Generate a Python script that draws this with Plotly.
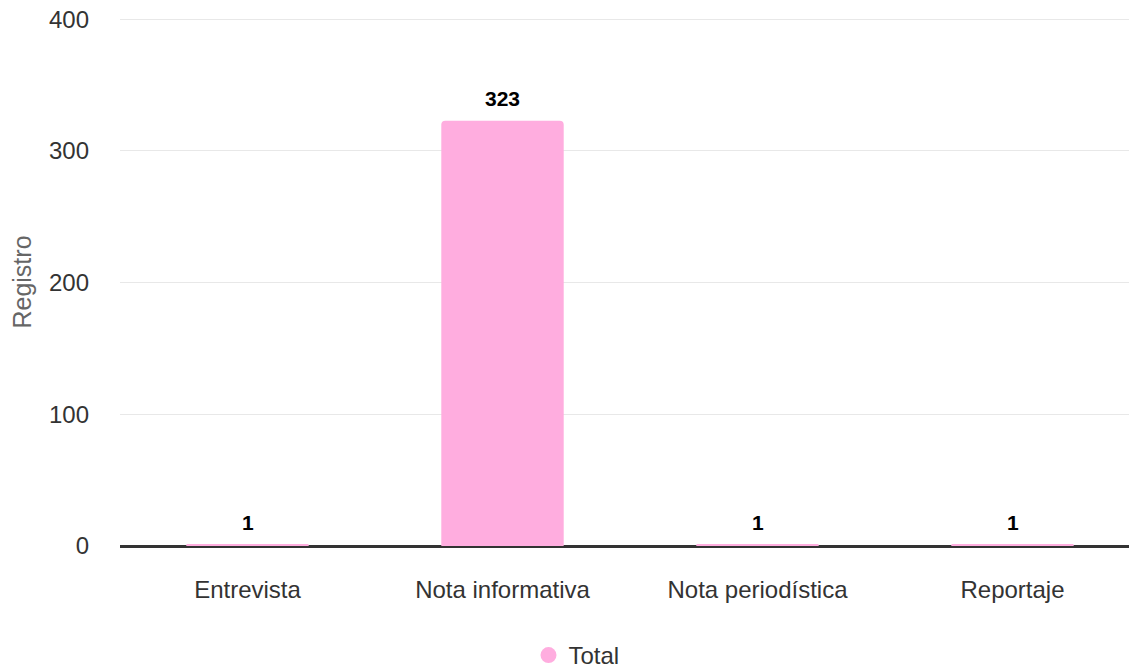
import plotly.graph_objects as go

categories = ["Entrevista", "Nota informativa", "Nota periodística", "Reportaje"]
values = [1, 323, 1, 1]
series_name = "Total"
y_ticks = [0, 100, 200, 300, 400]

bar_color = "#FFADDF"
font_family = "Liberation Sans, Arial, sans-serif"

fig = go.Figure()
fig.add_trace(go.Bar(
    x=categories, y=values, name=series_name,
    marker=dict(color=bar_color, line=dict(width=0), cornerradius=4),
    showlegend=False,
))
# legend entry with a circular marker
fig.add_trace(go.Scatter(
    x=[None], y=[None], mode="markers", name=series_name,
    marker=dict(color=bar_color, size=23, symbol="circle"),
))

for c, v in zip(categories, values):
    fig.add_annotation(
        x=c, y=v, text=f"<b>{v}</b>", showarrow=False,
        yanchor="bottom", yshift=9,
        font=dict(family=font_family, size=21, color="#000000"),
    )

fig.update_layout(
    width=1137, height=670,
    margin=dict(l=112, r=5, t=9.5, b=132, autoexpand=False),
    plot_bgcolor="white", paper_bgcolor="white",
    font=dict(family=font_family, size=24, color="#444444"),
    bargap=0.52,
    legend=dict(orientation="h", x=0.5, xref="container", xanchor="center",
                y=22, yref="container", yanchor="bottom",
                font=dict(size=24, color="#333333"), itemsizing="trace"),
    xaxis=dict(showgrid=False, ticks="", tickfont=dict(size=24, color="#333333"),
               showline=False, automargin=False, ticklabelstandoff=27),
    yaxis=dict(range=[0, 401], tickvals=y_ticks, showgrid=True, gridcolor="#E8E8E8",
               gridwidth=1, zeroline=True, zerolinecolor="#333333", zerolinewidth=2.5,
               automargin=False, ticklabeloverflow="allow",
               tickfont=dict(size=24, color="#333333"), ticklabelstandoff=30,
               title=dict(text="Registro", font=dict(size=25, color="#666666"), standoff=14)),
)

fig.write_html("out.html")
